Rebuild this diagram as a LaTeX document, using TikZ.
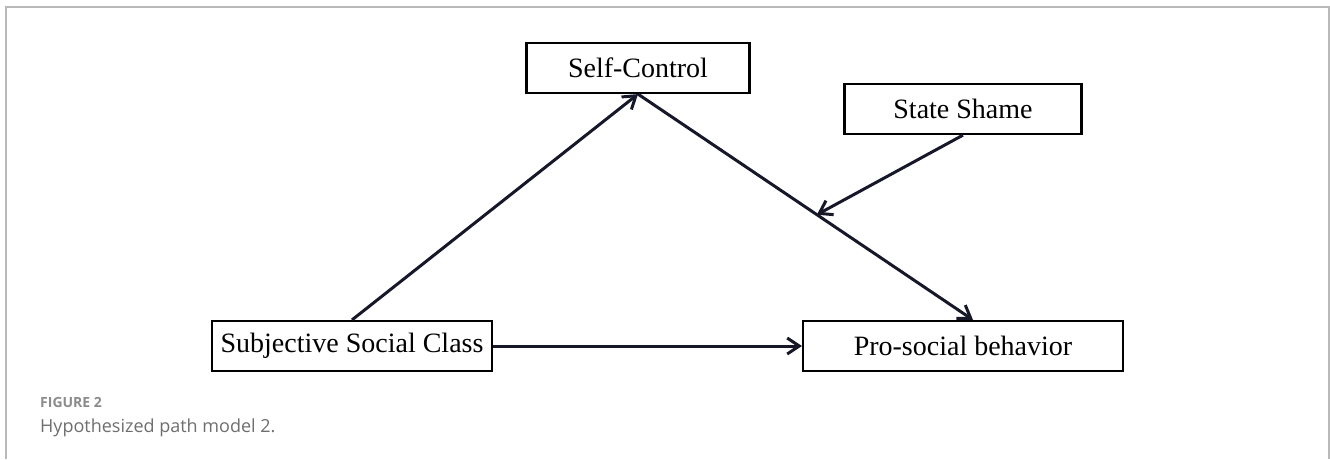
\documentclass[tikz,border=0pt]{standalone}
\usepackage{fontspec}
\setmainfont{Liberation Serif}
\newfontfamily\capfont{Open Sans}
\usetikzlibrary{arrows.meta}
\definecolor{ink}{RGB}{22,24,42}
\definecolor{capgray}{RGB}{110,110,110}
\begin{document}
\begin{tikzpicture}[x=1pt,y=-1pt,>={Straight Barb[length=12pt,width=16pt]},
  var/.style={draw,line width=2.2pt,minimum height=50pt,inner sep=0pt,font=\fontsize{28}{30}\selectfont},
  path/.style={->,line width=3pt,draw=ink}]
\useasboundingbox (0,0) rectangle (1330,459);
% frame
\draw[line width=1.6pt,gray!55] (6,459) -- (6,7) -- (1329,7) -- (1329,459);
% variables
\node[var,minimum width=223pt] (ctrl) at (638,68) {Self-Control};
\node[var,minimum width=237pt] (shame) at (963,109) {State Shame};
\node[var,minimum width=280pt] (ssc) at (352,346) {Subjective Social Class};
\node[var,minimum width=320pt] (pro) at (963,346) {Pro-social behavior};
% paths
\draw[path] (ssc.north) -- (ctrl.south);
\draw[path] (ctrl.south) -- coordinate[pos=0.534] (meet) ([xshift=10pt]pro.north);
\draw[path] (ssc.east) -- (pro.west);
\draw[path] (shame.south) -- (meet);
% caption
\node[anchor=base west,inner sep=0pt,text=capgray!80,font=\capfont\bfseries\fontsize{14}{16}\selectfont] (fig) at (40,407) {FIGURE 2};
\node[anchor=base west,inner sep=0pt,text=capgray,font=\capfont\fontsize{18}{20}\selectfont] (cap) at (40,432) {Hypothesized path model 2.};
\end{tikzpicture}
\end{document}
